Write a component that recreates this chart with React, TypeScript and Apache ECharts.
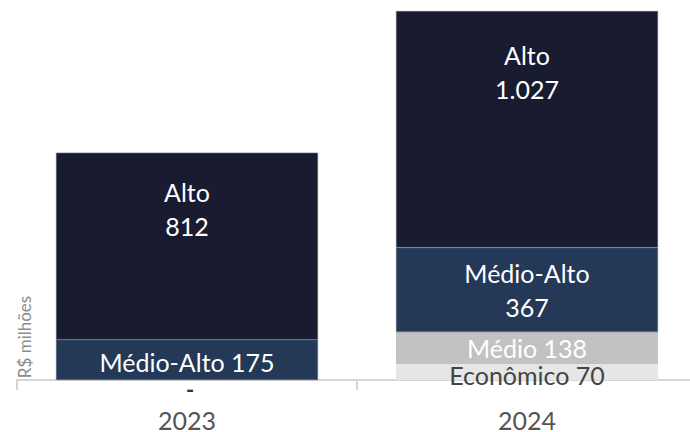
import React, { useEffect, useRef } from "react";
import * as echarts from "echarts";

const categories = ["2023", "2024"];
const economico = [0, 70];
const medio = [0, 138];
const medioAlto = [175, 367];
const alto = [812, 1027];
const yAxisName = "R$ milhões";

const fmt = (v: number) => v.toLocaleString("pt-BR");

export default function App() {
  const ref = useRef<HTMLDivElement>(null);
  useEffect(() => {
    document.body.style.margin = "0";
    const chart = echarts.init(ref.current!, undefined, { renderer: "svg" });
    const font = "Lato";
    const fs = 25;
    const base = {
      type: "bar" as const,
      stack: "total",
      barWidth: 262,
    };
    chart.setOption({
      animation: false,
      textStyle: { fontFamily: font },
      grid: { left: 17, width: 680, top: 0, bottom: 48, containLabel: false },
      xAxis: {
        type: "category",
        data: categories,
        axisLine: { show: true, lineStyle: { color: "#d6d6d6", width: 2 } },
        axisTick: { show: true, length: 10, lineStyle: { color: "#d6d6d6", width: 2 } },
        axisLabel: { color: "#555555", fontSize: fs, margin: 27, fontFamily: font },
      },
      yAxis: { type: "value", min: 0, max: 1650, show: false },
      graphic: [
        {
          type: "text",
          x: 24,
          y: 337,
          rotation: Math.PI / 2,
          style: {
            text: yAxisName,
            fill: "#8c8c8c",
            font: `17px ${font}`,
            align: "center",
            verticalAlign: "middle",
          },
        },
      ],
      series: [
        {
          ...base,
          name: "Econômico",
          itemStyle: { color: "#e6e6e6" },
          data: economico.map((v) =>
            v === 0
              ? {
                  value: v,
                  label: {
                    show: true,
                    position: "bottom",
                    distance: -2,
                    offset: [3, 0],
                    formatter: "-",
                    color: "#333333",
                    fontSize: 22,
                    fontWeight: "bold",
                  },
                }
              : {
                  value: v,
                  label: {
                    show: true,
                    position: "inside",
                    offset: [0, 3],
                    formatter: () => `Econômico ${fmt(v)}`,
                    color: "#444444",
                    fontSize: fs,
                  },
                }
          ),
        },
        {
          ...base,
          name: "Médio",
          itemStyle: { color: "#c2c2c2" },
          data: medio.map((v) =>
            v === 0
              ? { value: v, label: { show: false } }
              : {
                  value: v,
                  label: {
                    show: true,
                    position: "inside",
                    formatter: () => `Médio ${fmt(v)}`,
                    color: "#ffffff",
                    fontSize: fs,
                  },
                }
          ),
        },
        {
          ...base,
          name: "Médio-Alto",
          itemStyle: { color: "#243857", borderColor: "#5a6478", borderWidth: 0.6 },
          data: medioAlto.map((v, i) => ({
            value: v,
            label: {
              show: true,
              position: "inside",
              offset: [0, i === 0 ? 2 : 0],
              formatter: () => (i === 0 ? `Médio-Alto ${fmt(v)}` : `Médio-Alto\n${fmt(v)}`),
              color: "#ffffff",
              fontSize: fs,
              lineHeight: 34,
            },
          })),
        },
        {
          ...base,
          name: "Alto",
          itemStyle: { color: "#191b31", borderColor: "#5a6478", borderWidth: 0.6 },
          data: alto.map((v, i) => ({
            value: v,
            label: {
              show: true,
              position: "insideTop",
              distance: i === 0 ? 22 : 27,
              formatter: () => `Alto\n${fmt(v)}`,
              color: "#ffffff",
              fontSize: fs,
              lineHeight: 34,
            },
          })),
        },
      ],
    });
    return () => chart.dispose();
  }, []);
  return (
    <div
      style={{ position: "absolute", left: 0, top: 0, width: 690, height: 432, overflow: "hidden" }}
    >
      <div ref={ref} style={{ width: 704, height: 432 }} />
    </div>
  );
}
